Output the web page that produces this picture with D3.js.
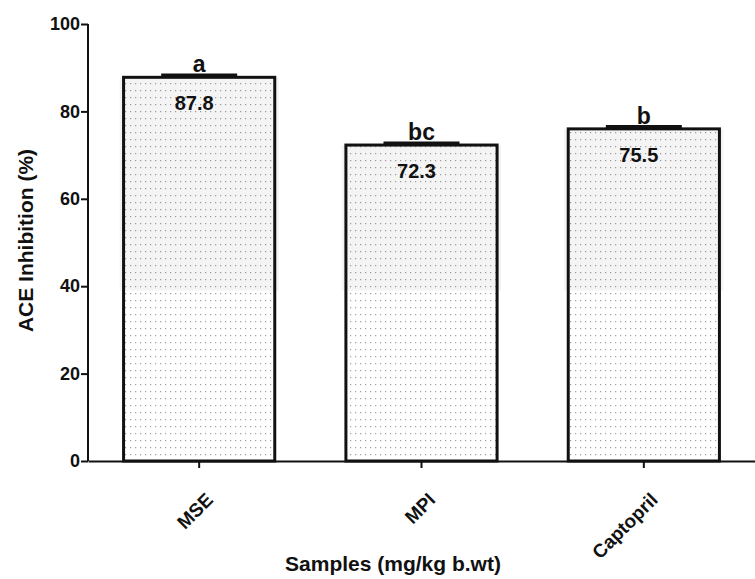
<!DOCTYPE html>
<html lang="en">

<head>
    <meta charset="UTF-8">
    <title>ACE Inhibition</title>
    <script src="https://d3js.org/d3.v7.min.js"></script>
    <style>
        body { margin: 0; background: #fff; }
        text { font-family: "Liberation Sans", Arial, sans-serif; font-weight: bold; fill: #111; }
    </style>
</head>

<body>

    <svg width="755" height="579" id="mainsvg"></svg>

    <script>
        // data
        const samples = ['MSE', 'MPI', 'Captopril'];
        const inhibition = [87.8, 72.3, 76.0];
        const errors = [0.5, 0.4, 0.5];
        const valueLabels = ['87.8', '72.3', '75.5'];
        const letters = ['a', 'bc', 'b'];
        const yTicks = [0, 20, 40, 60, 80, 100];

        const svg = d3.select('#mainsvg');
        const margin = { top: 24, right: 0, bottom: 118, left: 88 };
        const innerWidth = 755 - margin.left - margin.right;
        const innerHeight = 579 - margin.top - margin.bottom;

        const data = samples.map((s, i) => ({
            name: s, value: inhibition[i], err: errors[i], label: valueLabels[i], letter: letters[i]
        }));

        const xScale = d3.scaleBand()
            .domain(samples)
            .range([0, innerWidth])
            .paddingInner(0.32)
            .paddingOuter(0.16);

        const yScale = d3.scaleLinear()
            .domain([0, 100])
            .range([innerHeight, 0]);

        // dotted fill
        const defs = svg.append('defs');
        const pat = defs.append('pattern')
            .attr('id', 'dots')
            .attr('patternUnits', 'userSpaceOnUse')
            .attr('width', 5).attr('height', 7);
        pat.append('rect').attr('width', 5).attr('height', 7).attr('fill', '#fff');
        pat.append('rect').attr('x', 2).attr('y', 3).attr('width', 1.2).attr('height', 1.2).attr('fill', '#a0a0a0');

        const g = svg.append('g')
            .attr('transform', `translate(${margin.left},${margin.top})`);

        // bars
        const bars = g.selectAll('.bar').data(data).enter().append('g').attr('class', 'bar');

        bars.append('rect')
            .attr('x', d => xScale(d.name))
            .attr('y', d => yScale(d.value))
            .attr('width', xScale.bandwidth())
            .attr('height', d => innerHeight - yScale(d.value))
            .attr('fill', 'url(#dots)');

        // the greyish shade over the upper part of the bars
        bars.append('rect')
            .attr('x', d => xScale(d.name) - 4)
            .attr('y', d => yScale(d.value))
            .attr('width', xScale.bandwidth() + 8)
            .attr('height', d => yScale(39) - yScale(d.value))
            .attr('fill', '#000')
            .attr('opacity', 0.045);

        bars.append('rect')
            .attr('x', d => xScale(d.name))
            .attr('y', d => yScale(d.value))
            .attr('width', xScale.bandwidth())
            .attr('height', d => innerHeight - yScale(d.value))
            .attr('fill', 'none')
            .attr('stroke', '#111')
            .attr('stroke-width', 3);

        // error caps
        bars.append('line')
            .attr('x1', d => xScale(d.name) + xScale.bandwidth() / 2 - 38)
            .attr('x2', d => xScale(d.name) + xScale.bandwidth() / 2 + 38)
            .attr('y1', d => yScale(d.value + d.err))
            .attr('y2', d => yScale(d.value + d.err))
            .attr('stroke', '#111')
            .attr('stroke-width', 3.5);

        // significance letters
        bars.append('text')
            .attr('x', d => xScale(d.name) + xScale.bandwidth() / 2)
            .attr('y', d => yScale(d.value + d.err) - 3)
            .attr('text-anchor', 'middle')
            .attr('font-size', 23)
            .text(d => d.letter);

        // value labels
        bars.append('text')
            .attr('x', d => xScale(d.name) + xScale.bandwidth() / 2 - 5)
            .attr('y', d => yScale(d.value) + 33)
            .attr('text-anchor', 'middle')
            .attr('font-size', 20)
            .text(d => d.label);

        // y axis
        const yAxisGroup = g.append('g')
            .call(d3.axisLeft(yScale).tickValues(yTicks).tickSize(7).tickPadding(1));
        yAxisGroup.selectAll('.domain, .tick line').attr('stroke', '#111').attr('stroke-width', 2);
        yAxisGroup.select('.domain').attr('d', `M0,${innerHeight}V0`);
        yAxisGroup.selectAll('.tick text').attr('font-size', 18).attr('fill', '#111')
            .attr('font-family', '"Liberation Sans", Arial, sans-serif');

        // x axis
        const xAxisGroup = g.append('g')
            .attr('transform', `translate(0,${innerHeight})`)
            .call(d3.axisBottom(xScale).tickSize(7).tickSizeOuter(0));
        xAxisGroup.selectAll('.domain, .tick line').attr('stroke', '#111').attr('stroke-width', 2);
        xAxisGroup.selectAll('.tick text')
            .attr('font-size', 19).attr('fill', '#111')
            .attr('font-family', '"Liberation Sans", Arial, sans-serif')
            .attr('text-anchor', 'end')
            .attr('dy', 0)
            .attr('transform', 'translate(8,33) rotate(-45)');

        // axis titles
        g.append('text')
            .attr('x', 305)
            .attr('y', innerHeight + 110)
            .attr('text-anchor', 'middle')
            .attr('font-size', 21)
            .text('Samples (mg/kg b.wt)');

        g.append('text')
            .attr('transform', `translate(-55,${innerHeight / 2 - 2}) rotate(-90)`)
            .attr('text-anchor', 'middle')
            .attr('font-size', 21)
            .text('ACE Inhibition (%)');
    </script>
</body>

</html>
